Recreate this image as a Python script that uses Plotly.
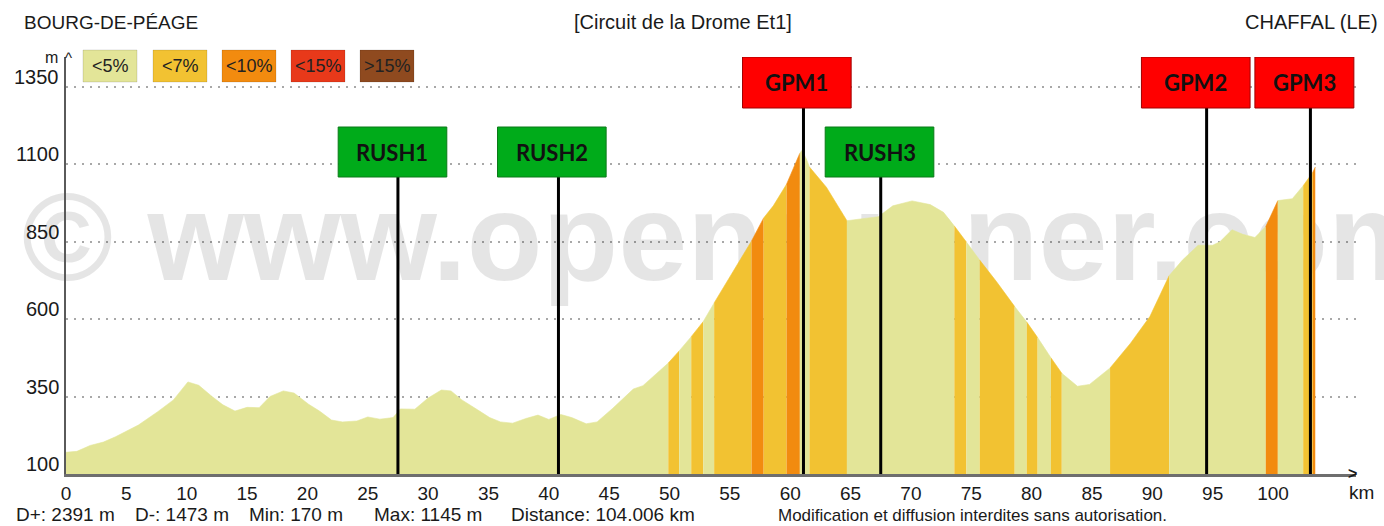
import plotly.graph_objects as go

# ---------------- data ----------------
KM = [0, 0.9, 2.0, 3.1, 4.1, 6.0, 7.6, 8.9, 10.1, 11.0, 12.1, 13.0, 14.0, 15.0, 16.0,
      16.9, 18.0, 18.9, 20.1, 21.0, 22.0, 22.9, 24.1, 25.0, 26.0, 27.1, 27.7, 28.9,
      30.0, 31.1, 31.9, 32.8, 34.1, 35.1, 36.0, 37.0, 38.1, 39.1, 40.0, 41.0, 41.9,
      43.1, 44.0, 45.3, 47.0, 47.8, 49.9, 50.8, 51.8, 52.8, 53.7, 55.3, 56.8, 57.8,
      58.6, 59.7, 60.8, 61.0, 61.4, 61.6, 63.0, 64.7, 65.8, 67.3, 68.5, 70.1, 71.6,
      72.7, 73.6, 74.6, 75.7, 77.1, 78.6, 79.6, 80.5, 81.6, 82.5, 83.8, 84.8, 86.5,
      88.2, 89.8, 91.4, 92.5, 93.8, 95.0, 95.6, 96.6, 97.5, 98.5, 99.4, 100.4, 101.6,
      102.5, 103.3, 103.5]
ELEV = [170, 173, 192, 203, 220, 258, 301, 339, 397, 386, 350, 323, 303, 315, 314,
        350, 368, 361, 325, 303, 274, 268, 271, 284, 277, 282, 310, 309,
        345, 371, 368, 339, 307, 282, 268, 264, 279, 290, 276, 292, 282,
        262, 268, 312, 374, 385, 458, 497, 543, 592, 652, 757, 852, 926,
        965, 1035, 1135, 1145, 1110, 1090, 1025, 917, 922, 930, 965, 981, 969,
        944, 900, 848, 790, 720, 640, 590, 540, 475, 425, 383, 389, 442,
        522, 608, 740, 790, 838, 838, 849, 888, 873, 863, 898, 982, 988,
        1030, 1073, 1090]

GRADE_BREAKS = [0, 49.9, 50.8, 51.8, 52.8, 53.7, 56.8, 57.8, 59.7, 60.8, 61.6, 64.7,
                73.6, 74.6, 75.7, 78.6, 79.6, 80.5, 81.6, 82.5, 86.5, 91.4, 99.4,
                100.4, 102.5, 103.3, 103.5]
GRADE_CLASS = ["<5%", "<7%", "<5%", "<7%", "<5%", "<7%", "<10%", "<7%", "<10%", "<5%",
               "<7%", "<5%", "<7%", "<5%", "<7%", "<5%", "<7%", "<5%", "<7%", "<5%",
               "<7%", "<5%", "<10%", "<5%", "<7%", "<10%"]

LEGEND_LABELS = ["<5%", "<7%", "<10%", "<15%", ">15%"]

MARK_NAMES = ["RUSH1", "RUSH2", "GPM1", "RUSH3", "GPM2", "GPM3"]
MARK_KM = [27.5, 40.8, 61.1, 67.5, 94.5, 103.1]
MARK_TYPE = ["sprint", "sprint", "climb", "sprint", "climb", "climb"]

X_TICKS = list(range(0, 101, 5))
Y_TICKS = [100, 350, 600, 850, 1100, 1350]

START_NAME = "BOURG-DE-PÉAGE"
STAGE_NAME = "[Circuit de la Drome Et1]"
FINISH_NAME = "CHAFFAL (LE)"
STAT_LABELS = ["D+: 2391 m", "D-: 1473 m", "Min: 170 m", "Max: 1145 m", "Distance: 104.006 km"]
NOTICE = "Modification et diffusion interdites sans autorisation."
WATERMARK = "© www.openrunner.com"

# ---------------- styles / layout ----------------
W, H = 1384, 526
L, R, T, B = 66, 1356, 57, 474
PX_PER_KM = 12.07
PX_PER_M = 0.31
XMAX = (R - L) / PX_PER_KM
YMIN = 100
YMAX = YMIN + (B - T) / PX_PER_M

COLORS = {"<5%": "#E3E598", "<7%": "#F2C232", "<10%": "#F28B0F",
          "<15%": "#E8391A", ">15%": "#8F4A1F"}
NARROW = "Liberation Sans Narrow, Arial Narrow, Liberation Sans, Arial, sans-serif"
BOXFONT = "Lato, Liberation Sans, Arial, sans-serif"
TXT = "#1a1a1a"


def px_x(px):
    return (px - L) / (R - L)


def px_y(py):
    return (B - py) / (B - T)


def km_at(px):
    return (px - L) / PX_PER_KM


def m_at(py):
    return YMIN + (B - py) / PX_PER_M


def paper_text(px, py, text, size, anchor="center", color=TXT, family=NARROW):
    return dict(x=px_x(px), y=px_y(py), xref="paper", yref="paper", text=text,
                xanchor=anchor, yanchor="middle", showarrow=False,
                font=dict(family=family, size=size, color=color))


fig = go.Figure()

# watermark (behind profile)
fig.add_trace(go.Scatter(
    x=[km_at(730)], y=[m_at(249)], mode="text", text=["<b>%s</b>" % WATERMARK],
    textposition="middle center", cliponaxis=False, hoverinfo="skip", showlegend=False,
    textfont=dict(size=124, color="rgba(0,0,0,0.10)", family="Liberation Sans, Arial, sans-serif")))

# coloured profile segments
for i, cls in enumerate(GRADE_CLASS):
    a, b = GRADE_BREAKS[i], GRADE_BREAKS[i + 1]
    xs = [k for k in KM if a - 1e-9 <= k <= b + 1e-9]
    ys = [ELEV[KM.index(k)] for k in xs]
    fig.add_trace(go.Scatter(
        x=xs, y=ys, mode="lines", fill="tozeroy", fillcolor=COLORS[cls],
        line=dict(color=COLORS[cls], width=0.6), hoverinfo="skip", showlegend=False))

shapes = []
annotations = []

# markers
BOX_W_KM = {"RUSH1": 9.0, "RUSH2": 9.0, "GPM1": 9.0, "RUSH3": 9.0, "GPM2": 9.0, "GPM3": 8.2}
BOX_SHIFT_KM = {"RUSH1": -0.45, "RUSH2": -0.55, "GPM1": -0.55, "RUSH3": -0.1, "GPM2": -0.9, "GPM3": -0.5}
for name, km, typ in zip(MARK_NAMES, MARK_KM, MARK_TYPE):
    if typ == "sprint":
        top_px, bot_px, fill, border = 127, 177, "#00AB1A", "#0B7A18"
    else:
        top_px, bot_px, fill, border = 57, 108, "#FF0000", "#A00000"
    cx = km + BOX_SHIFT_KM[name]
    wk = BOX_W_KM[name]
    shapes.append(dict(type="line", xref="x", yref="y", x0=km, x1=km, y0=YMIN, y1=m_at(bot_px),
                       line=dict(color="black", width=3), layer="above"))
    shapes.append(dict(type="rect", xref="x", yref="y", x0=cx - wk / 2, x1=cx + wk / 2,
                       y0=m_at(bot_px), y1=m_at(top_px), fillcolor=fill,
                       line=dict(color=border, width=1), layer="above"))
    annotations.append(dict(x=cx, y=(m_at(bot_px) + m_at(top_px)) / 2, xref="x", yref="y",
                            text="<b>%s</b>" % name, showarrow=False,
                            xanchor="center", yanchor="middle",
                            font=dict(family=BOXFONT, size=22, color="#111")))

# legend boxes
LEG_X = [83, 153, 222, 291, 360]
for lab, x0 in zip(LEGEND_LABELS, LEG_X):
    shapes.append(dict(type="rect", xref="paper", yref="paper", x0=px_x(x0), x1=px_x(x0 + 54),
                       y0=px_y(82), y1=px_y(50), fillcolor=COLORS[lab],
                       line=dict(color="rgba(0,0,0,0.12)", width=1), layer="above"))
    annotations.append(paper_text(x0 + 27, 66, lab, 18, color="#222"))

# y tick labels
for v in Y_TICKS:
    annotations.append(dict(x=0, y=v, xref="paper", yref="y", text=str(v), showarrow=False,
                            xanchor="right", yanchor="middle", xshift=-5, yshift=10,
                            font=dict(family=NARROW, size=20, color=TXT)))

# axis arrows / units
annotations += [
    paper_text(51, 58, "m", 16),
    paper_text(68, 57, "^", 15),
    paper_text(1352, 473, "<b>></b>", 16),
    paper_text(1361, 492, "km", 19),
]

# titles
annotations += [
    paper_text(22, 22, START_NAME, 19, anchor="left"),
    paper_text(683, 22, STAGE_NAME, 20),
    paper_text(1380, 22, FINISH_NAME, 20, anchor="right"),
]

# stats
STAT_X = [14, 133, 247, 372, 509]
for s, x0 in zip(STAT_LABELS, STAT_X):
    annotations.append(paper_text(x0, 514, s, 19, anchor="left"))
annotations.append(paper_text(776, 515, NOTICE, 17, anchor="left"))

fig.update_layout(
    width=W, height=H, margin=dict(l=L, r=W - R, t=T, b=H - B),
    paper_bgcolor="white", plot_bgcolor="white", showlegend=False,
    shapes=shapes, annotations=annotations,
    xaxis=dict(range=[0, XMAX], tickvals=X_TICKS, ticks="", showgrid=False, zeroline=False,
               showline=True, linecolor="#6E6E6E", linewidth=3, ticklabelstandoff=0,
               tickfont=dict(family=NARROW, size=19, color=TXT), fixedrange=True),
    yaxis=dict(range=[YMIN, YMAX], tickvals=Y_TICKS[1:], showticklabels=False, ticks="",
               showgrid=True, gridcolor="#A8A8A8", gridwidth=2, griddash="2px,6px",
               zeroline=False, showline=True, linecolor="#5A5A5A", linewidth=2, fixedrange=True),
)

fig.write_html("out.html", config={"displayModeBar": False},
               post_script="document.body.style.margin='0px';")
